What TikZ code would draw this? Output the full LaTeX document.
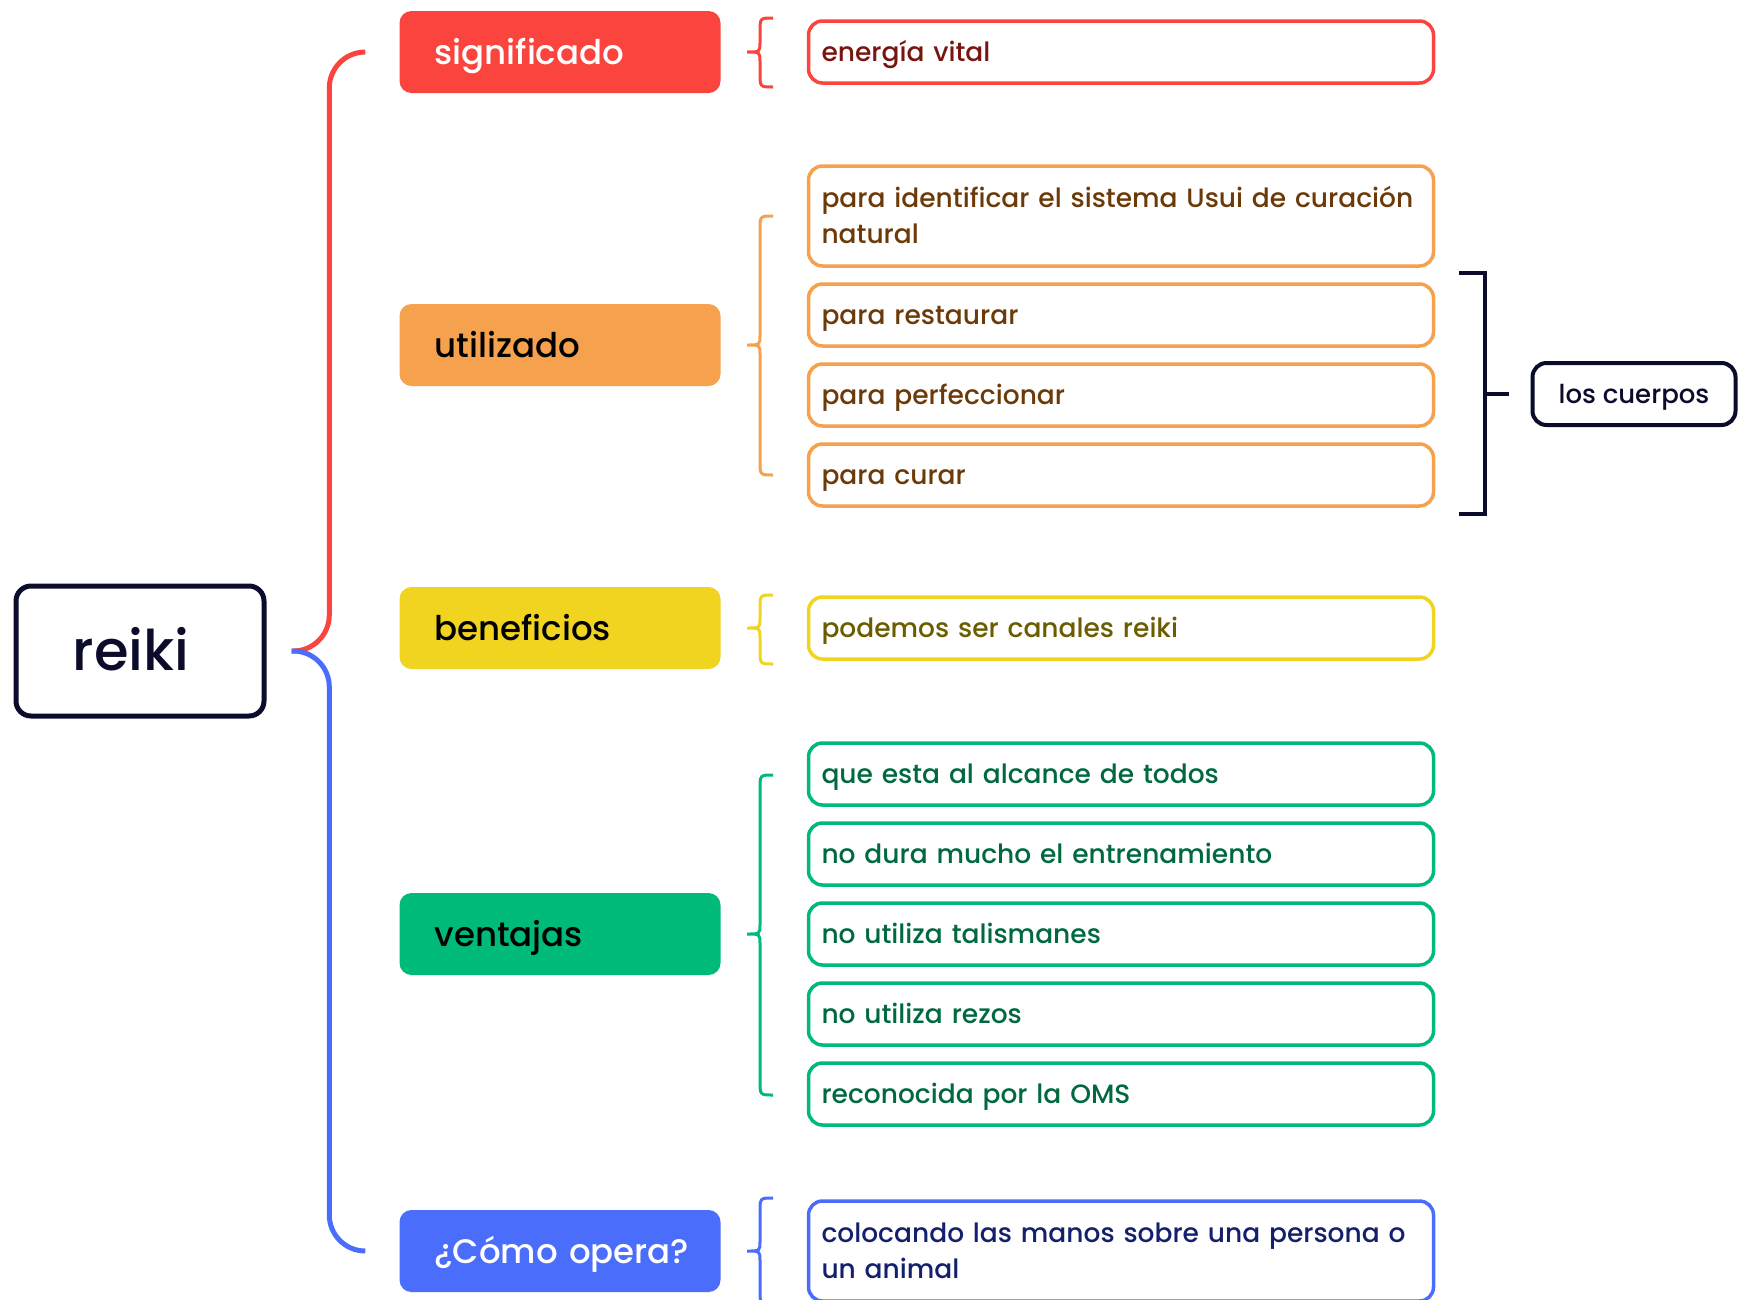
\documentclass[tikz,border=0pt]{standalone}
\usepackage{fontspec}
\setmainfont{Poppins Medium}
\usetikzlibrary{calc}
\definecolor{cred}{HTML}{FA443D}
\definecolor{corange}{HTML}{F5A14D}
\definecolor{cyellow}{HTML}{F1D420}
\definecolor{cgreen}{HTML}{00BA79}
\definecolor{cblue}{HTML}{4B6DFB}
\definecolor{cnavy}{HTML}{0B0B2C}
\definecolor{tred}{HTML}{7A1410}
\definecolor{torange}{HTML}{6B3A08}
\definecolor{tyellow}{HTML}{6B5C00}
\definecolor{tgreen}{HTML}{00693F}
\definecolor{tblue}{HTML}{14206E}
\tikzset{
  cat/.style={rectangle, rounded corners=12pt, minimum width=321pt, minimum height=82pt,
    inner xsep=35pt, text width=251pt, align=left, font=\fontsize{34}{40}\selectfont,
    text height=27pt, text depth=2pt},
  leaf/.style={rectangle, draw, line width=3.5pt, rounded corners=14pt, fill=white,
    minimum height=62pt, text width=599pt, inner xsep=13pt, align=left,
    font=\fontsize{26.5}{36}\selectfont, text height=21pt, text depth=2pt},
  twolines/.style={minimum height=100pt, text depth=37.5pt},
}
\newcommand\curly[4]{%
  \draw[#1, line width=3pt] (773,#2) .. controls (760,#2) .. (760,{#2+14})
    -- (760,{#3-10}) .. controls (760,#3) .. (747,#3)
    .. controls (760,#3) .. (760,{#3+10}) -- (760,{#4-14})
    .. controls (760,#4) .. (773,#4);}
\begin{document}
\begin{tikzpicture}[x=1pt, y=-1pt]
  \useasboundingbox (0,0) rectangle (1740,1299);
  % main topic
  \node[draw=cnavy, line width=5pt, rounded corners=15pt, minimum width=248pt,
    minimum height=130pt, text=cnavy, font=\fontsize{56}{60}\selectfont,
    text height=44pt, text depth=4.4pt] (reiki) at (140,651) {reiki\kern18pt};
  % categories
  \node[cat, fill=cred, text=white] (sig) at (560,52) {significado};
  \node[cat, fill=corange, text=black] (utl) at (560,345) {utilizado};
  \node[cat, fill=cyellow, text=black] (ben) at (560,628) {beneficios};
  \node[cat, fill=cgreen, text=black] (ven) at (560,934) {ventajas};
  \node[cat, fill=cblue, text=white] (com) at (560,1251) {\mbox{¿Cómo opera?}};
  \draw[cred, line width=5pt, rounded corners=36pt, shorten <=25pt, shorten >=34pt]
    (reiki.east) -| ([xshift=-70pt]sig.west) -- (sig.west);
  \draw[cblue, line width=5pt, rounded corners=36pt, shorten <=25pt, shorten >=34pt]
    (reiki.east) -| ([xshift=-70pt]com.west) -- (com.west);
  % leaves
  \node[leaf, draw=cred, text=tred] (ev) at (1121,52) {energía vital};
  \node[leaf, twolines, draw=corange, text=torange] (pi) at (1121,216)
    {para identificar el sistema Usui de curación\\natural};
  \node[leaf, draw=corange, text=torange] (pr) at (1121,315) {para restaurar};
  \node[leaf, draw=corange, text=torange] (pp) at (1121,395) {para perfeccionar};
  \node[leaf, draw=corange, text=torange] (pc) at (1121,475) {para curar};
  \node[leaf, draw=cyellow, text=tyellow] (pod) at (1121,628) {podemos ser canales reiki};
  \node[leaf, draw=cgreen, text=tgreen] (q1) at (1121,774) {que esta al alcance de todos};
  \node[leaf, draw=cgreen, text=tgreen] (q2) at (1121,854) {no dura mucho el entrenamiento};
  \node[leaf, draw=cgreen, text=tgreen] (q3) at (1121,934) {no utiliza talismanes};
  \node[leaf, draw=cgreen, text=tgreen] (q4) at (1121,1014) {no utiliza rezos};
  \node[leaf, draw=cgreen, text=tgreen] (q5) at (1121,1094) {reconocida por la OMS};
  \node[leaf, twolines, draw=cblue, text=tblue] (col) at (1121,1251)
    {colocando las manos sobre una persona o\\un animal};
  % braces
  \curly{cred}{18}{52}{87}
  \curly{corange}{216}{345}{475}
  \curly{cyellow}{595}{628}{664}
  \curly{cgreen}{775}{934}{1095}
  \curly{cblue}{1198}{1251}{1304}
  % summary
  \node[draw=cnavy, line width=4pt, rounded corners=14pt, minimum width=203pt,
    minimum height=62pt, text=cnavy, font=\fontsize{26}{36}\selectfont,
    text height=21pt, text depth=2.5pt] (cue) at (1634,394) {los cuerpos};
  \draw[cnavy, line width=4pt] (1459,273) -- (1485,273) -- (1485,514) -- (1459,514);
  \coordinate (brk) at (1485,394);
  \draw[cnavy, line width=4pt, shorten >=22pt] (brk) -- (cue.west);
\end{tikzpicture}
\end{document}
